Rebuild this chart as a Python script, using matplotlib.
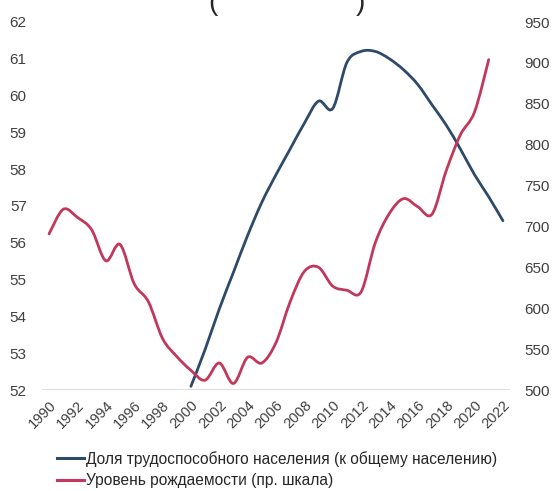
import matplotlib
matplotlib.use("Agg")
import matplotlib.pyplot as plt
from matplotlib.path import Path
from matplotlib.patches import PathPatch
from matplotlib.lines import Line2D

plt.rcParams['font.family'] = ['Liberation Sans', 'DejaVu Sans']

years = list(range(1990, 2023))
tick_labels = [str(y) for y in years[::2]]

share_years = list(range(2000, 2023))
working_share = [52.1, 53.1, 54.2, 55.2, 56.2, 57.1, 57.85, 58.55, 59.25, 59.85,
                 59.65, 60.9, 61.2, 61.2, 61.0, 60.7, 60.3, 59.75, 59.2, 58.55,
                 57.85, 57.25, 56.6]

birth_years = list(range(1990, 2022))
births = [691, 721, 711, 696, 658, 678, 630, 608, 563, 541,
          524, 512, 533, 508, 540, 533, 558, 608, 645, 650,
          627, 622, 620, 680, 716, 734, 724, 715, 768, 812,
          840, 904]

label_share = "Доля трудоспособного населения (к общему населению)"
label_births = "Уровень рождаемости (пр. шкала)"
c_blue = "#2e4a6a"
c_pink = "#c2375c"


def smooth_path(xs, ys):
    pts = list(zip(xs, ys))
    verts = [pts[0]]
    codes = [Path.MOVETO]
    n = len(pts)
    for i in range(n - 1):
        p0 = pts[i - 1] if i > 0 else pts[i]
        p1 = pts[i]
        p2 = pts[i + 1]
        p3 = pts[i + 2] if i + 2 < n else pts[i + 1]
        c1 = (p1[0] + (p2[0] - p0[0]) / 6, p1[1] + (p2[1] - p0[1]) / 6)
        c2 = (p2[0] - (p3[0] - p1[0]) / 6, p2[1] - (p3[1] - p1[1]) / 6)
        verts += [c1, c2, p2]
        codes += [Path.CURVE4] * 3
    return Path(verts, codes)


fig = plt.figure(figsize=(5.52, 4.91), dpi=100)
ax = fig.add_axes([42 / 552, 1 - 390 / 491, 468 / 552, 368 / 491])
ax2 = ax.twinx()

x_share = [years.index(y) for y in share_years]
x_births = [years.index(y) for y in birth_years]

ax.add_patch(PathPatch(smooth_path(x_share, working_share), facecolor='none',
                       edgecolor=c_blue, lw=2.0, capstyle='round', zorder=3))
ax2.add_patch(PathPatch(smooth_path(x_births, births), facecolor='none',
                        edgecolor=c_pink, lw=2.0, capstyle='round', zorder=3))

ax.set_xlim(-0.5, len(years) - 0.5)
ax.set_ylim(52, 62)
ax2.set_ylim(500, 950)
ax.set_yticks(range(52, 63))
ax2.set_yticks(range(500, 951, 50))
ax.set_xticks(range(0, len(years), 2))
ax.set_xticklabels(tick_labels, rotation=45, ha='right', rotation_mode='anchor')

for a in (ax, ax2):
    for s in a.spines.values():
        s.set_visible(False)
    a.tick_params(length=0, labelsize=11, colors='#404040')
ax.tick_params(axis='y', pad=11)
ax2.tick_params(axis='y', pad=10)
ax.tick_params(axis='x', pad=6, labelsize=10.5)
ax.axhline(52, color='#d9d9d9', lw=1.2, zorder=1)

handles = [Line2D([], [], color=c_blue, lw=2.2),
           Line2D([], [], color=c_pink, lw=2.2)]
fig.legend(handles, [label_share, label_births], loc='upper left',
           bbox_to_anchor=(46 / 552, 1 - 440 / 491), frameon=False,
           fontsize=11.2, handlelength=1.75, handletextpad=0.1,
           labelspacing=0.42, labelcolor='#262626', borderaxespad=0.3)

fig.text(213 / 552, 1 - 10 / 491, "(", fontsize=20, ha='center', va='baseline', color='#262626')
fig.text(360 / 552, 1 - 10 / 491, ")", fontsize=20, ha='center', va='baseline', color='#262626')

fig.savefig("out.png", dpi=100)
